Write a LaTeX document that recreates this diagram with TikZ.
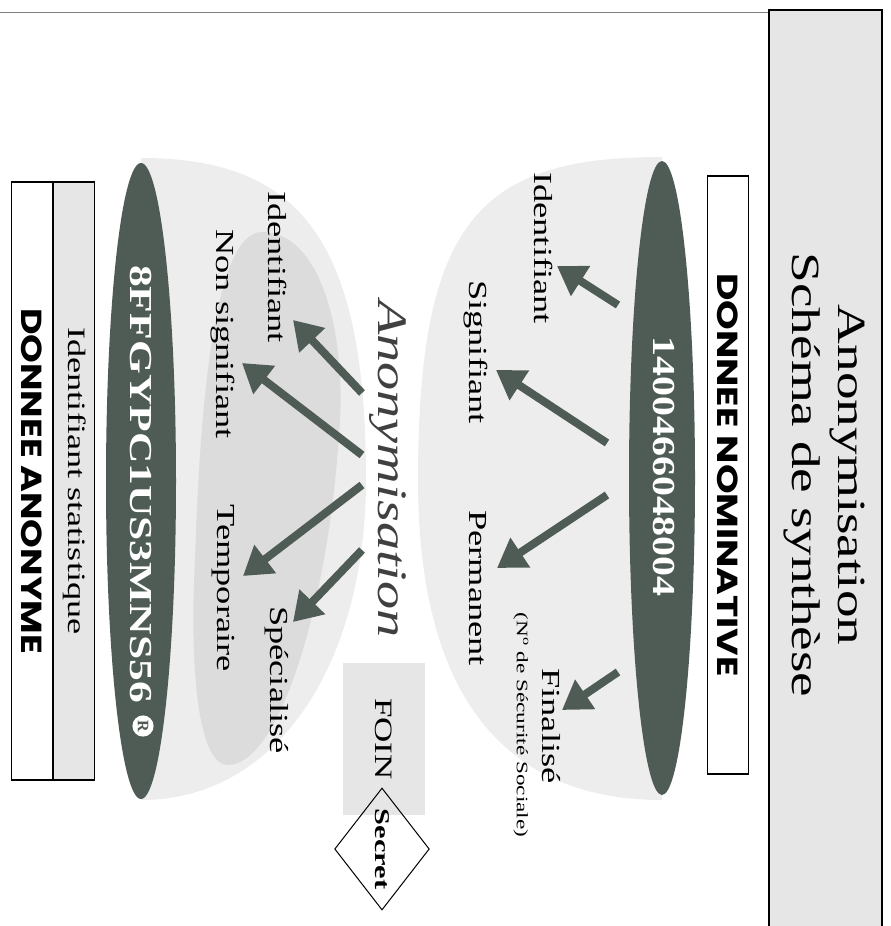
\documentclass[tikz,border=0pt]{standalone}
\usepackage{fontspec}
\setmainfont{Liberation Serif}
\newfontfamily\gothic{Poppins}
\usepackage{graphicx}
\usetikzlibrary{arrows.meta}
\usetikzlibrary{positioning}
\usetikzlibrary{shapes.geometric}

\definecolor{ovaldark}{HTML}{4E5C55}
\definecolor{halolight}{HTML}{EDEDED}
\definecolor{haloinner}{HTML}{DCDCDC}
\definecolor{boxlight}{HTML}{E6E6E6}

\newcommand{\wide}[2][1.4]{\scalebox{#1}[1]{#2}}

\tikzset{
  lab/.style={font=\fontsize{26}{30}\selectfont, inner sep=1pt},
  bigarrow/.style={-{Triangle[length=28pt,width=34pt]}, line width=8pt, ovaldark},
  oval/.style={ellipse, fill=ovaldark, inner sep=0pt},
  ovaltext/.style={text=white, font=\bfseries\fontsize{32}{36}\selectfont, inner sep=0pt},
  framebox/.style={draw, line width=1.2pt, inner sep=0pt, minimum width=598pt, minimum height=41pt},
}

\begin{document}
\begin{tikzpicture}[x=1pt, y=-1pt, every node/.style={rotate=-90}]
\useasboundingbox (0,0) rectangle (891,926);

% title band
\draw[gray, line width=1pt] (0,12) -- (769,12);
\fill[boxlight] (769,10) rectangle (882,926);
\draw[line width=2.5pt] (769,926) -- (769,10) -- (882,10) -- (882,926);
\node[align=center, font=\fontsize{40}{46}\selectfont] (title) at (824,475) {\wide[1.38]{Anonymisation}\\\wide[1.38]{Schéma de synthèse}};

% halos
\fill[halolight] (662,157) .. controls (480,157) and (418,220) .. (418,480) .. controls (418,690) and (500,800) .. (662,800) -- cycle;
\fill[halolight] (141,158) .. controls (300,158) and (366,240) .. (366,480) .. controls (366,660) and (280,800) .. (141,800) -- cycle;
\fill[haloinner] (262,232) .. controls (320,232) and (345,330) .. (340,420) .. controls (330,600) and (280,765) .. (228,765) .. controls (195,765) and (190,650) .. (195,560) .. controls (200,400) and (215,232) .. (262,232) -- cycle;

% donnee nominative
\node[framebox, fill=white, font=\gothic\bfseries\fontsize{29}{30}\selectfont] (nomin) at (728,475) {\wide[1.3]{DONNEE NOMINATIVE}};
\node[oval, minimum width=634pt, minimum height=66pt] (num1) at (662,478) {};
\node[ovaltext] (code1) at (664,466) {\wide[1.25]{1400466048004}};

% donnee anonyme
\node[framebox, fill=white, font=\gothic\bfseries\fontsize{29}{30}\selectfont] (anonbox) at (32,481) {\wide[1.26]{DONNEE ANONYME}};
\node[framebox, fill=boxlight, font=\fontsize{25}{26}\selectfont, above=0pt of anonbox] (stat) {\wide[1.45]{Identifiant statistique}};
\node[oval, minimum width=636pt, minimum height=70pt] (num2) at (141,481) {};
\node[ovaltext] (code2) at (141,484) {\wide[1.36]{8FFGYPC1US3MNS56}};
\node[circle, fill=white, inner sep=2pt, text=ovaldark, font=\bfseries\fontsize{16}{16}\selectfont] (reg) at (143,726) {R};

% labels
\node[lab] (id1) at (544,248) {\wide{Identifiant}};
\node[lab] (sig) at (476,352) {\wide{Signifiant}};
\node[lab] (perm) at (478,588) {\wide{Permanent}};
\node[lab] (fin) at (551,726) {\wide{Finalisé}};
\node[font=\fontsize{16}{18}\selectfont, inner sep=0pt] (nss) at (521,725) {\wide[1.45]{(N\textsuperscript{o} de Sécurité Sociale)}};

\node[lab] (id2) at (278,267) {\wide{Identifiant}};
\node[lab] (nsig) at (223,334) {\wide{Non signifiant}};
\node[lab] (temp) at (223,588) {\wide{Temporaire}};
\node[lab] (spec) at (277,680) {\wide{Spécialisé}};

\node[font=\itshape\fontsize{42}{46}\selectfont, text=black!75] (anon) at (388,469) {\wide[1.34]{Anonymisation}};

\node[fill=boxlight, minimum width=152pt, minimum height=82pt, font=\fontsize{25}{28}\selectfont] (foin) at (384,739) {\wide{FOIN}};
\node[diamond, draw, line width=1pt, minimum width=122pt, minimum height=83pt, inner sep=0pt, font=\bfseries\fontsize{21}{22}\selectfont] (secret) at (382,849) {\wide[1.45]{Secret}};

% arrows
\coordinate (n1) at (618,305);
\coordinate (n2) at (607,443);
\coordinate (n3) at (607,495);
\coordinate (n4) at (618,672);
\coordinate (t1) at (557,266);
\coordinate (t2) at (496,370);
\coordinate (t3) at (497,568);
\coordinate (t4) at (562,710);

\coordinate (m1) at (362,393);
\coordinate (m2) at (362,455);
\coordinate (m3) at (362,485);
\coordinate (m4) at (362,550);
\coordinate (u1) at (293,320);
\coordinate (u2) at (242,363);
\coordinate (u3) at (243,576);
\coordinate (u4) at (293,622);

\path[bigarrow, draw] (n1) -- (t1);
\path[bigarrow, draw] (n2) -- (t2);
\path[bigarrow, draw] (n3) -- (t3);
\path[bigarrow, draw] (n4) -- (t4);
\path[bigarrow, draw] (m1) -- (u1);
\path[bigarrow, draw] (m2) -- (u2);
\path[bigarrow, draw] (m3) -- (u3);
\path[bigarrow, draw] (m4) -- (u4);
\end{tikzpicture}
\end{document}
